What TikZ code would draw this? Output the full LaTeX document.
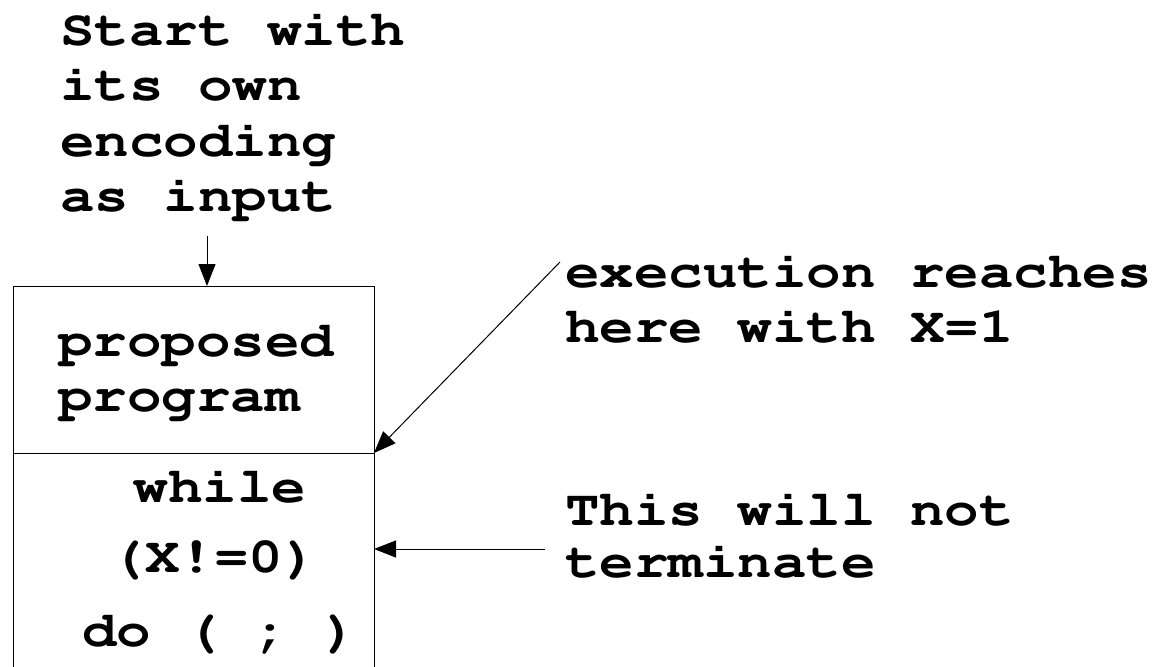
\documentclass[tikz,border=0pt]{standalone}
\usepackage{graphicx}
\usetikzlibrary{arrows.meta}
\newcommand\cour{\fontencoding{T1}\fontfamily{pcr}\fontseries{b}\fontshape{n}\fontsize{50}{55}\selectfont}
\newcommand\sx[1]{\scalebox{1.15}[1]{#1}}
\tikzset{
  txt/.style={inner sep=0pt, anchor=base west, font=\cour},
  ctxt/.style={inner sep=0pt, anchor=base, font=\cour},
  boxline/.style={draw=black, line width=1pt},
  arr/.style={draw=black, line width=1pt, -{Triangle[length=22pt,width=17pt]}}
}
\begin{document}
\begin{tikzpicture}[x=1pt,y=-1pt]
\useasboundingbox (0,0) rectangle (1158,666);
% top label
\node[txt] (s1) at (60,46) {\sx{Start with}};
\node[txt] (s2) at (60,101) {\sx{its own}};
\node[txt] (s3) at (60,156) {\sx{encoding}};
\node[txt] (s4) at (60,211) {\sx{as input}};
% box corners
\coordinate (tl) at (13,286);
\coordinate (tr) at (374,286);
\coordinate (ml) at (13,453);
\coordinate (mr) at (374,453);
\coordinate (bl) at (13,670);
\coordinate (br) at (374,670);
\draw[boxline] (bl) -- (tl) -- (tr) -- (br);
\draw[boxline] (ml) -- (mr);
% input arrow
\coordinate (inStart) at (207,236);
\coordinate (inEnd) at (207,286);
\draw[arr] (inStart) -- (inEnd);
% box texts
\node[txt] (p1) at (58,356) {\sx{proposed}};
\node[txt] (p2) at (58,411) {\sx{program}};
\node[ctxt] (w1) at (220,502) {\sx{while}};
\node[ctxt] (w2) at (214,572) {\sx{(X!=0)}};
\node[ctxt] (w3) at (220,646) {\sx{do ( ; )}};
% right labels
\node[txt] (e1) at (565,287) {\sx{execution reaches}};
\node[txt] (e2) at (565,342) {\sx{here with X=1}};
\node[txt] (t1) at (565,525) {\sx{This will not}};
\node[txt] (t2) at (565,577) {\sx{terminate}};
% arrows
\coordinate (dStart) at (560,262);
\draw[arr] (dStart) -- (mr);
\coordinate (hStart) at (545,549);
\coordinate (hEnd) at (374,549);
\draw[arr] (hStart) -- (hEnd);
\end{tikzpicture}
\end{document}
